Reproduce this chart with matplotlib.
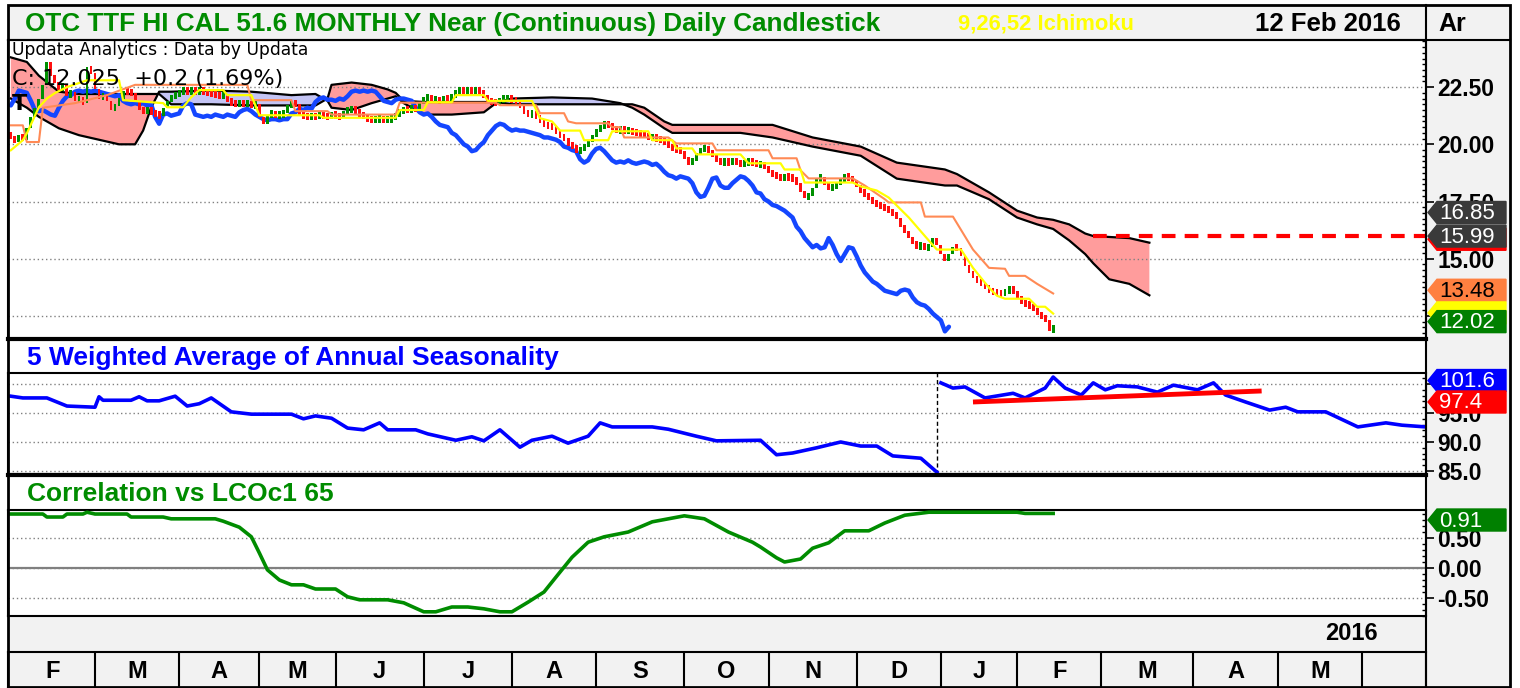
import numpy as np
import matplotlib
matplotlib.use("Agg")
import matplotlib.pyplot as plt
from matplotlib.patches import Rectangle, Polygon
from matplotlib.ticker import MultipleLocator

# ---------------- Data ----------------
month_letters = ["F", "M", "A", "M", "J", "J", "A", "S", "O", "N", "D", "J", "F", "M", "A", "M"]
month_bars = [21, 21, 20, 19, 22, 22, 21, 22, 21, 22, 21, 19, 21, 23, 21, 21]
last_slot = 353

first_open = 20.5
closes = np.array([
    20.3, 20.1, 20.4, 20.2, 20.7, 21.2, 21.6, 22.0, 22.6, 23.6, 23.0, 22.7, 22.4,
    22.6, 22.1, 22.3, 21.9, 22.0, 21.8, 23.4, 23.1, 22.4, 22.0, 22.2, 21.9, 21.5,
    21.7, 22.0, 22.35, 22.3, 22.25, 21.9, 21.5, 21.45, 21.5, 21.4,
    21.3, 21.25, 21.6, 21.9, 22.1, 22.15, 22.3, 22.35, 22.3, 22.35,
    22.3, 22.35, 22.3, 22.25, 22.2, 22.15, 22.1, 22.15, 21.9, 21.8,
    21.75, 21.8, 21.75, 21.8, 21.7, 21.75, 21.2, 20.9, 21.3, 21.35,
    21.25, 21.3, 21.35, 21.7, 21.8, 21.75, 21.3, 21.25, 21.2, 21.25,
    21.2, 21.3, 21.25, 21.2, 21.3, 21.25, 21.2, 21.4, 21.5, 21.55,
    21.45, 21.3, 21.2, 21.1, 21.05, 21.1, 21.1, 21.05, 21.1, 21.1,
    21.35, 21.4, 21.55, 21.5, 21.6, 21.55, 21.85, 22.0, 22.05, 21.95,
    21.95, 21.9, 22.0, 21.95, 22.1, 22.3, 22.35, 22.3, 22.35, 22.3,
    22.35, 22.3, 22.1, 21.9, 21.85, 21.8, 21.95, 22.0, 22.0, 21.95,
    21.9, 21.6, 21.4, 21.3, 21.35, 21.2, 21.0, 20.85, 20.8, 20.75,
    20.5, 20.4, 20.2, 20.0, 19.9, 19.7, 19.75, 19.95, 20.1, 20.4,
    20.6, 20.8, 20.9, 20.85, 20.7, 20.6, 20.65, 20.6, 20.6, 20.55,
    20.5, 20.45, 20.4, 20.3, 20.3, 20.25, 20.2, 20.1, 19.9, 19.85,
    19.75, 19.7, 19.35, 19.2, 19.3, 19.6, 19.8, 19.85, 19.7, 19.5,
    19.3, 19.2, 19.25, 19.2, 19.3, 19.2, 19.15, 19.2, 19.25, 19.2,
    19.1, 19.15, 19.0, 18.8, 18.65, 18.6, 18.5, 18.6, 18.55, 18.5,
    18.3, 17.9, 17.7, 17.75, 18.1, 18.5, 18.55, 18.2, 18.1, 18.1,
    18.3, 18.45, 18.6, 18.55, 18.4, 18.2, 17.9, 17.85, 17.6, 17.5,
    17.35, 17.3, 17.2, 17.1, 16.95, 16.8, 16.4, 16.2, 15.9, 15.7,
    15.5, 15.6, 15.45, 15.5, 15.9, 15.6, 15.2, 14.9, 15.2, 15.5,
    15.45, 15.1, 14.7, 14.4, 14.2, 14.0, 13.9, 13.75, 13.6, 13.55,
    13.5, 13.45, 13.6, 13.65, 13.6, 13.3, 13.1, 13.0, 12.95, 12.8,
    12.6, 12.45, 12.3, 11.825, 12.025,
])
chikou_lag = 26

tenkan_x = [0, 3, 4, 7, 9, 11, 14, 19, 27, 28, 38, 39, 43, 45, 47, 53, 54, 60, 61, 62, 77, 78,
            96, 97, 103, 104, 110, 111, 118, 119, 130, 132, 135, 137, 142, 143, 149, 150, 159,
            160, 165, 166, 170, 171, 182, 184, 192, 193, 197, 198, 210, 212, 216, 219, 224, 229,
            231, 237, 240, 244, 246, 248, 254, 256, 258, 260]
tenkan_y = [19.74, 20.18, 20.48, 21.62, 22.0, 22.24, 22.5, 22.8, 22.8, 21.93, 21.8, 21.62, 21.62,
            22.06, 22.37, 22.37, 22.15, 22.15, 21.7, 21.27, 21.27, 21.16, 21.16, 21.5, 21.5, 21.84,
            21.84, 22.15, 22.15, 21.9, 21.9, 21.14, 21.0, 20.6, 20.6, 20.18, 20.18, 20.57, 20.57,
            20.18, 20.18, 19.82, 19.82, 19.56, 19.56, 19.17, 19.17, 18.9, 18.9, 18.33, 18.33, 18.16,
            17.98, 17.67, 16.8, 15.79, 15.4, 15.4, 14.6, 13.73, 13.38, 13.25, 13.25, 12.9, 12.9, 12.6]

kijun_x = [0, 3, 4, 7, 8, 16, 24, 31, 59, 60, 70, 71, 79, 80, 96, 97, 121, 122, 131, 132, 138, 139,
           141, 149, 150, 152, 153, 164, 166, 175, 176, 189, 190, 196, 197, 199, 210, 213, 218, 219,
           227, 228, 235, 240, 244, 248, 249, 253, 256, 260]
kijun_y = [20.83, 20.83, 20.1, 20.1, 21.6, 21.8, 22.15, 22.6, 22.6, 21.93, 21.93, 21.45, 21.45, 21.3,
           21.3, 21.82, 21.82, 21.71, 21.71, 21.36, 21.36, 21.0, 20.92, 20.92, 20.75, 20.75, 20.3,
           20.3, 20.04, 20.04, 19.74, 19.74, 19.39, 19.39, 18.86, 18.51, 18.51, 18.2, 17.6, 17.46,
           17.46, 16.84, 16.84, 15.4, 14.6, 14.56, 14.25, 14.25, 13.9, 13.48]

cloud_x = [0, 4, 7, 12, 17, 22, 27, 31, 33, 35, 37, 40, 50, 60, 70, 76, 79, 80, 85, 90, 94, 96, 98,
           103, 110, 118, 121, 125, 135, 145, 152, 155, 158, 163, 165, 182, 190, 200, 212, 221, 233,
           236, 244, 251, 256, 260, 264, 268, 270, 274, 279, 284]
span_a = [22.0, 21.6, 21.2, 20.7, 20.4, 20.2, 20.0, 20.0, 20.6, 21.6, 22.3, 22.3, 22.35, 22.3, 22.15,
          22.2, 21.9, 21.6, 21.5, 21.8, 22.0, 22.1, 21.8, 21.3, 21.3, 21.4, 21.8, 22.0, 22.05, 22.0,
          21.8, 21.6, 21.3, 20.7, 20.5, 20.5, 20.3, 19.9, 19.5, 18.5, 18.2, 18.2, 17.6, 16.8, 16.5,
          16.3, 15.8, 15.2, 14.8, 14.1, 13.9, 13.4]
span_b = [23.8, 23.6, 23.0, 22.3, 22.2, 22.2, 22.2, 22.2, 22.2, 22.2, 22.2, 21.75, 21.75, 21.7, 21.7,
          21.7, 22.0, 22.6, 22.7, 22.6, 22.4, 22.25, 21.9, 21.85, 21.85, 21.85, 21.85, 21.75, 21.75,
          21.75, 21.75, 21.75, 21.6, 21.0, 20.85, 20.85, 20.85, 20.3, 19.9, 19.2, 18.9, 18.7, 17.9,
          17.1, 16.8, 16.7, 16.5, 16.1, 15.99, 15.95, 15.9, 15.7]

cloud_level = 15.99
cloud_level_start = 270

season_prev_x = [0, 3, 9, 14, 21, 22, 23, 30, 32, 34, 37, 41, 44, 47, 50, 55, 60, 70, 73, 76, 80, 84,
                 88, 92, 94, 101, 104, 111, 115, 118, 122, 127, 130, 135, 139, 144, 147, 150, 160,
                 164, 171, 176, 187, 191, 195, 201, 207, 212, 216, 220, 227, 231]
season_prev_y = [97.9, 97.6, 97.6, 96.2, 96.0, 97.8, 97.2, 97.2, 97.8, 97.1, 97.1, 97.9, 96.2, 96.6,
                 97.6, 95.2, 94.8, 94.8, 94.0, 94.5, 94.1, 92.4, 92.1, 93.3, 92.1, 92.1, 91.4, 90.3,
                 90.9, 90.2, 92.1, 89.1, 90.3, 91.0, 89.8, 91.0, 93.3, 92.6, 92.6, 92.2, 91.0, 90.2,
                 90.3, 87.8, 88.1, 89.0, 90.0, 89.3, 89.3, 87.6, 87.2, 84.8]
season_cur_x = [232, 235, 238, 243, 250, 253, 258, 260, 263, 267, 270, 273, 276, 281, 286, 290,
                296, 300, 303, 308, 314, 318, 321, 328, 336, 343, 347, 353]
season_cur_y = [100.2, 99.3, 99.5, 97.6, 98.4, 97.6, 99.3, 101.2, 99.3, 98.1, 100.2, 99.0, 99.7,
                99.5, 98.6, 99.8, 99.0, 100.2, 98.1, 96.9, 95.5, 96.0, 95.2, 95.2, 92.6, 93.3, 92.9,
                92.6]
season_year_break = 231
trend_x = [240, 312]
trend_y = [96.9, 98.8]

corr_x = [0, 8, 9, 13, 14, 18, 19, 21, 29, 30, 38, 40, 51, 53, 57, 60, 62, 64, 67, 70, 73, 76, 81,
          84, 87, 94, 98, 103, 106, 110, 114, 118, 122, 125, 129, 133, 136, 140, 144, 148, 154,
          160, 168, 173, 179, 185, 187, 191, 193, 197, 200, 204, 208, 214, 218, 223, 229, 251,
          253, 260]
corr_y = [0.9, 0.9, 0.85, 0.85, 0.9, 0.9, 0.93, 0.9, 0.9, 0.85, 0.85, 0.82, 0.82, 0.78, 0.68, 0.52,
          0.25, -0.03, -0.2, -0.28, -0.28, -0.35, -0.35, -0.48, -0.53, -0.53, -0.58, -0.73, -0.73,
          -0.65, -0.65, -0.68, -0.73, -0.73, -0.57, -0.4, -0.15, 0.18, 0.43, 0.52, 0.6, 0.77, 0.87,
          0.82, 0.6, 0.43, 0.35, 0.17, 0.1, 0.15, 0.33, 0.42, 0.62, 0.62, 0.75, 0.88, 0.93, 0.93,
          0.91, 0.91]

# ---------------- Layout (pixels) ----------------
W, H = 1520, 688
ARIAL = ["Liberation Sans", "DejaVu Sans"]
GREY_BG = "#F2F2F2"
PANELS = {"price": (40, 339), "season": (373, 474), "corr": (510, 616)}


def fig_rect(x0, y0, x1, y1):
    return [x0 / W, 1 - y1 / H, (x1 - x0) / W, (y1 - y0) / H]


fig = plt.figure(figsize=(W / 100, H / 100), dpi=100)

bg = fig.add_axes([0, 0, 1, 1], zorder=0)
bg.set_xlim(0, W)
bg.set_ylim(H, 0)
bg.axis("off")
bg.add_patch(Rectangle((8, 5), 1502, 35, fc=GREY_BG, ec="none"))
bg.add_patch(Rectangle((1426, 40), 84, 648, fc=GREY_BG, ec="none"))
bg.add_patch(Rectangle((8, 616), 1418, 36, fc=GREY_BG, ec="none"))

bg.text(25, 24, "OTC TTF HI CAL 51.6 MONTHLY Near (Continuous) Daily Candlestick",
        family=ARIAL, weight="bold", fontsize=18.8, color="#008C00", va="center")
bg.text(958, 24, "9,26,52 Ichimoku", family=ARIAL, weight="bold", fontsize=15.8,
        color="#FFFF00", va="center")
bg.text(1255, 24, "12 Feb 2016", family=ARIAL, weight="bold", fontsize=18.5, color="black", va="center")
bg.text(1438, 24, "Ar", family=ARIAL, weight="bold", fontsize=18, color="black", va="center")
bg.text(27, 358, "5 Weighted Average of Annual Seasonality", family=ARIAL, weight="bold",
        fontsize=19, color="#0000FF", va="center")
bg.text(27, 494, "Correlation vs LCOc1 65", family=ARIAL, weight="bold",
        fontsize=19, color="#008C00", va="center")
bg.text(1378, 634, "2016", family=ARIAL, weight="bold", fontsize=17, color="black",
        va="center", ha="right")

ax1 = fig.add_axes(fig_rect(8, 40, 1426, 339), zorder=1)
ax2 = fig.add_axes(fig_rect(8, 373, 1426, 474), zorder=1)
ax3 = fig.add_axes(fig_rect(8, 510, 1426, 616), zorder=1)
axm = fig.add_axes(fig_rect(8, 652, 1426, 688), zorder=1)

for ax in (ax1, ax2, ax3, axm):
    ax.set_xlim(-0.7, last_slot)
    ax.set_xticks([])
    for sp in ax.spines.values():
        sp.set_color("black")
        sp.set_linewidth(1.5)

dotted = (0, (1, 2))

# ---- price panel ----
bars = np.arange(len(closes))
opens = np.concatenate([[first_open], closes[:-1]])
up = closes >= opens
min_body = 0.32
move = np.abs(closes - opens)
body_h = np.maximum(move, min_body)
body_lo = np.minimum(opens, closes) - np.where(move < min_body, (min_body - move) / 2, 0)
ax1.bar(bars, body_h, bottom=body_lo, width=0.72,
        color=np.where(up, "#009000", "#FF1010"), zorder=4)

ax1.fill_between(cloud_x, span_a, span_b, where=np.array(span_b) >= np.array(span_a),
                 interpolate=True, color="#FF9C9C", lw=0, zorder=1)
ax1.fill_between(cloud_x, span_a, span_b, where=np.array(span_b) < np.array(span_a),
                 interpolate=True, color="#C4C4F4", lw=0, zorder=1)
ax1.plot(cloud_x, span_a, color="black", lw=1.6, zorder=2)
ax1.plot(cloud_x, span_b, color="black", lw=1.6, zorder=2)

ax1.plot(bars[:-chikou_lag], closes[chikou_lag:], color="#1446FF", lw=3.2, zorder=3,
         solid_capstyle="round")
ax1.plot(kijun_x, kijun_y, color="#FF8A55", lw=1.5, zorder=5)
ax1.plot(tenkan_x, tenkan_y, color="#FFFF00", lw=1.6, zorder=5)
ax1.hlines(cloud_level, cloud_level_start, last_slot, colors="#FF0000", lw=3,
           linestyles=(0, (3.3, 2.2)), zorder=6)

ax1.set_ylim(11.49, 24.56)
ax1.set_yticks([12.5, 15.0, 17.5, 20.0, 22.5])
ax1.set_yticklabels(["", "15.00", "17.50", "20.00", "22.50"])
ax1.yaxis.set_minor_locator(MultipleLocator(0.25))
ax1.grid(axis="y", ls=dotted, color="#808080", lw=1)
ax1.spines["bottom"].set_visible(False)

ax1.text(0.003, 0.965, "Updata Analytics : Data by Updata", transform=ax1.transAxes,
         family="DejaVu Sans", fontsize=12.3, va="center", zorder=8)
ax1.text(0.003, 0.87, "C: 12.025  +0.2 (1.69%)", transform=ax1.transAxes,
         family="DejaVu Sans", fontsize=16, va="center", zorder=8)
ax1.text(0.003, 0.785, "T", transform=ax1.transAxes,
         family="DejaVu Sans", fontsize=16, weight="bold", va="center", zorder=8)

# ---- seasonality panel ----
ax2.plot(season_prev_x, season_prev_y, color="#0000FF", lw=2.6, zorder=3)
ax2.plot(season_cur_x, season_cur_y, color="#0000FF", lw=2.6, zorder=3)
ax2.plot(trend_x, trend_y, color="#FF0000", lw=3.5, zorder=4, solid_capstyle="butt")
ax2.axvline(season_year_break, color="black", lw=1, ls=(0, (3, 2)), zorder=2)
ax2.set_ylim(84.48, 101.9)
ax2.set_yticks([85, 90, 95, 100])
ax2.set_yticklabels(["85.0", "90.0", "95.0", ""])
ax2.yaxis.set_minor_locator(MultipleLocator(1))
ax2.grid(axis="y", ls=dotted, color="#808080", lw=1)

# ---- correlation panel ----
ax3.plot(corr_x, corr_y, color="#008C00", lw=2.6, zorder=3)
ax3.set_ylim(-0.8, 0.967)
ax3.set_yticks([-0.5, 0.0, 0.5])
ax3.set_yticklabels(["-0.50", "0.00", "0.50"])
ax3.yaxis.set_minor_locator(MultipleLocator(0.1))
ax3.grid(axis="y", ls=dotted, color="#808080", lw=1)
ax3.axhline(0, color="#808080", lw=1.6, zorder=2)

for ax in (ax1, ax2, ax3):
    ax.yaxis.tick_right()
    ax.tick_params(axis="y", which="major", direction="out", length=6, width=1.2,
                   labelsize=16.5, pad=2)
    ax.tick_params(axis="y", which="minor", direction="in", length=3, width=1)
    for lab in ax.get_yticklabels():
        lab.set_family(ARIAL)
        lab.set_weight("bold")

# ---- month bar ----
starts = np.concatenate([[0], np.cumsum(month_bars)])
axm.set_facecolor(GREY_BG)
axm.set_ylim(0, 1)
axm.set_yticks([])
axm.vlines(starts[1:], 0, 1, colors="black", lw=1.5)
for i, letter in enumerate(month_letters):
    axm.text((starts[i] + starts[i + 1]) / 2, 0.45, letter, ha="center", va="center",
             family=ARIAL, weight="bold", fontsize=17)

# ---- frame lines and value tags on top ----
fr = fig.add_axes([0, 0, 1, 1], zorder=5)
fr.set_xlim(0, W)
fr.set_ylim(H, 0)
fr.axis("off")
fr.patch.set_alpha(0)
fr.add_patch(Rectangle((8, 5), 1502, 682, fc="none", ec="black", lw=2))
fr.plot([8, 1510], [40, 40], color="black", lw=1.5)
fr.plot([1426, 1426], [5, 688], color="black", lw=1.5)
fr.plot([8, 1426], [339, 339], color="black", lw=3)
fr.plot([8, 1426], [475, 475], color="black", lw=3)


def tag(ax, panel, pos, label, fc, tc, h=22):
    y0, y1 = PANELS[panel]
    lo, hi = ax.get_ylim()
    yc = y0 + (hi - pos) / (hi - lo) * (y1 - y0)
    pts = [(1428, yc), (1437, yc - h / 2), (1506, yc - h / 2), (1506, yc + h / 2), (1437, yc + h / 2)]
    fr.add_patch(Polygon(pts, closed=True, fc=fc, ec=fc, lw=1))
    if label:
        fr.text(1439, yc + 1, label, color=tc, family=ARIAL, fontsize=16, va="center", ha="left")


tag(ax1, "price", 17.02, "16.85", "#3A3A3A", "white")
tag(ax1, "price", 15.85, None, "#FF0000", None)
tag(ax1, "price", 15.99, "15.99", "#3A3A3A", "white")
tag(ax1, "price", 13.62, "13.48", "#FF8040", "black")
tag(ax1, "price", 12.63, None, "#FFFF00", None)
tag(ax1, "price", 12.25, "12.02", "#008000", "white")
tag(ax2, "season", 100.6, "101.6", "#0000FF", "white")
tag(ax2, "season", 96.9, "97.4", "#FF0000", "white")
tag(ax3, "corr", 0.8, "0.91", "#008000", "white")

fig.savefig("out.png", dpi=100)
